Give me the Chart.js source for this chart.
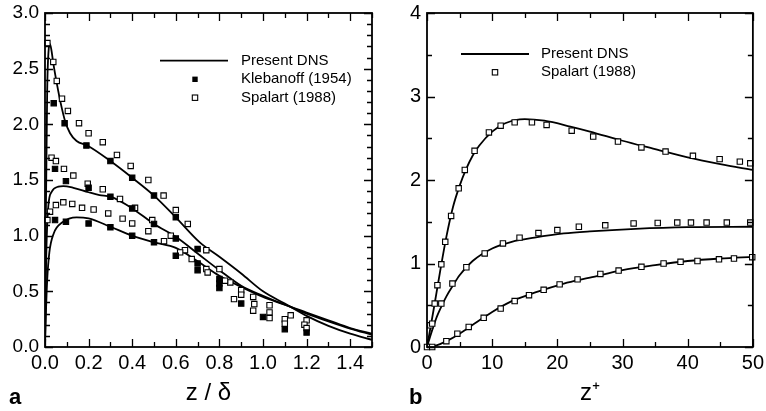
<!DOCTYPE html>
<html>
<head>
<meta charset="utf-8">
<script src="https://cdn.jsdelivr.net/npm/chart.js@4.4.1/dist/chart.umd.min.js"></script>
<style>
  html, body { margin: 0; padding: 0; background: #fff; }
  body { width: 766px; height: 411px; position: relative; overflow: hidden; font-family: "Liberation Sans", Arial, Helvetica, sans-serif; }
  .panel { position: absolute; top: 0; }
  .tag { position: absolute; top: 386px; font-size: 22px; line-height: 22px; font-weight: bold; }
</style>
</head>
<body>
<canvas id="chart-a" class="panel" width="383" height="411"></canvas>
<canvas id="chart-b" class="panel" width="385" height="411" style="left:383px"></canvas>
<div class="tag" style="left:9px">a</div>
<div class="tag" style="left:409px">b</div>

<script>
// ---- Panel a : rms profiles against z/delta ----
// Present DNS curves (streamwise, spanwise, wall-normal)
const uDnsX = [0, 0.004, 0.01, 0.016, 0.023, 0.03, 0.038, 0.054, 0.072, 0.092, 0.115, 0.145, 0.194, 0.3, 0.4, 0.5, 0.6, 0.71, 0.8, 0.9, 1.0, 1.1, 1.2, 1.3, 1.4, 1.5];
const uDnsY = [0, 1.2, 2.3, 2.65, 2.72, 2.66, 2.55, 2.37, 2.19, 2.03, 1.92, 1.85, 1.81, 1.67, 1.52, 1.36, 1.165, 0.94, 0.81, 0.66, 0.50, 0.39, 0.28, 0.19, 0.12, 0.065];
const wDnsX = [0, 0.005, 0.015, 0.031, 0.061, 0.084, 0.13, 0.2, 0.25, 0.3, 0.4, 0.5, 0.6, 0.7, 0.8, 0.9, 1.0, 1.1, 1.2, 1.3, 1.4, 1.5];
const wDnsY = [0, 0.75, 1.26, 1.395, 1.44, 1.445, 1.43, 1.39, 1.365, 1.35, 1.245, 1.105, 0.99, 0.84, 0.69, 0.55, 0.46, 0.38, 0.31, 0.24, 0.17, 0.12];
const vDnsX = [0, 0.005, 0.01, 0.02, 0.04, 0.08, 0.145, 0.2, 0.3, 0.4, 0.5, 0.6, 0.7, 0.8, 0.9, 1.0, 1.1, 1.2, 1.3, 1.4, 1.5];
const vDnsY = [0, 0.35, 0.6, 0.85, 1.02, 1.12, 1.165, 1.155, 1.08, 1.00, 0.94, 0.89, 0.77, 0.64, 0.54, 0.45, 0.38, 0.30, 0.23, 0.165, 0.11];

// Klebanoff (1954), filled squares
const klebX = [0.04, 0.09, 0.19, 0.3, 0.4, 0.5, 0.6, 0.7, 0.8, 0.9, 1.0, 1.1, 1.2,
               0.046, 0.096, 0.2, 0.3, 0.4, 0.5, 0.6, 0.7, 0.8,
               0.046, 0.096, 0.2, 0.3, 0.4, 0.5, 0.6, 0.7, 0.8];
const klebY = [2.19, 2.01, 1.81, 1.67, 1.52, 1.36, 1.165, 0.88, 0.61, 0.39, 0.27, 0.16, 0.13,
               1.60, 1.49, 1.43, 1.35, 1.245, 1.105, 0.975, 0.75, 0.57,
               1.14, 1.125, 1.11, 1.075, 1.00, 0.94, 0.82, 0.69, 0.53];

// Spalart (1988), open squares
const spalX = [0.011, 0.038, 0.054, 0.078, 0.105, 0.156, 0.2, 0.265, 0.33, 0.393, 0.474, 0.544, 0.6, 0.655, 0.74, 0.8, 0.85, 0.9, 0.955, 1.03, 1.127, 1.2,
               0.03, 0.05, 0.087, 0.13, 0.196, 0.265, 0.344, 0.413, 0.492, 0.577, 0.642, 0.74, 0.826, 0.9, 0.96, 1.03, 1.1, 1.19,
               0.011, 0.023, 0.05, 0.084, 0.125, 0.17, 0.223, 0.29, 0.356, 0.4, 0.474, 0.546, 0.62, 0.673, 0.746, 0.867, 0.955, 1.03, 1.1, 1.2];
const spalY = [2.73, 2.56, 2.39, 2.23, 2.12, 2.01, 1.92, 1.84, 1.725, 1.626, 1.50, 1.36, 1.23, 1.105, 0.87, 0.70, 0.58, 0.51, 0.45, 0.375, 0.285, 0.24,
               1.70, 1.67, 1.60, 1.54, 1.467, 1.417, 1.33, 1.25, 1.14, 1.00, 0.87, 0.70, 0.596, 0.47, 0.386, 0.31, 0.25, 0.20,
               1.14, 1.215, 1.275, 1.30, 1.285, 1.25, 1.235, 1.20, 1.153, 1.11, 1.04, 0.95, 0.85, 0.79, 0.67, 0.43, 0.326, 0.26, 0.21, 0.17];

const xTicksA = [0, 0.2, 0.4, 0.6, 0.8, 1.0, 1.2, 1.4];
const yTicksA = [0, 0.5, 1.0, 1.5, 2.0, 2.5, 3.0];

// ---- Panel b : rms profiles against z+ ----
const uPlusX = [0, 1, 2, 3, 4, 5, 6, 7, 8, 10, 12, 15, 18, 22, 25, 30, 35, 40, 45, 50];
const uPlusY = [0, 0.44, 0.90, 1.33, 1.68, 1.93, 2.13, 2.29, 2.41, 2.58, 2.68, 2.73, 2.71, 2.64, 2.58, 2.47, 2.37, 2.27, 2.19, 2.12];
const wPlusX = [0, 0.5, 1, 1.5, 2, 3, 4, 5, 7, 10, 13, 16.5, 21, 25, 32, 40, 50];
const wPlusY = [0, 0.13, 0.25, 0.36, 0.45, 0.61, 0.74, 0.86, 1.03, 1.18, 1.26, 1.31, 1.36, 1.385, 1.415, 1.435, 1.44];
const vPlusX = [0, 1, 2, 3, 5, 7.3, 10, 13, 16.5, 21, 25, 30, 35, 40, 45, 50];
const vPlusY = [0, 0.01, 0.035, 0.07, 0.16, 0.28, 0.42, 0.55, 0.65, 0.76, 0.83, 0.92, 0.98, 1.03, 1.06, 1.08];

const spalPlusX = [0.5, 1.18, 1.6, 2.2, 2.8, 3.7, 4.86, 5.8, 7.3, 9.5, 11.3, 13.45, 16.1, 18.35, 22.2, 25.5, 29.3, 32.9, 36.6, 40.8, 44.9, 48, 49.6,
                   0.8, 2.2, 3.9, 6.04, 8.85, 11.65, 14.2, 17.1, 20, 23.3, 27.35, 31.7, 35.4, 38.4, 40.5, 42.9, 46, 49.6,
                   0, 0.8, 2.97, 4.66, 6.4, 8.7, 11.3, 13.45, 15.65, 17.9, 20.35, 23.1, 26.6, 29.4, 32.9, 36.3, 38.9, 41.5, 44.8, 47.1, 49.9];
const spalPlusY = [0.26, 0.52, 0.74, 0.99, 1.26, 1.57, 1.9, 2.12, 2.35, 2.57, 2.65, 2.69, 2.69, 2.66, 2.59, 2.52, 2.46, 2.39, 2.34, 2.29, 2.25, 2.22, 2.2,
                   0.28, 0.52, 0.76, 0.955, 1.12, 1.24, 1.31, 1.365, 1.40, 1.44, 1.457, 1.48, 1.485, 1.49, 1.49, 1.49, 1.49, 1.49,
                   0, 0, 0.07, 0.16, 0.24, 0.35, 0.46, 0.55, 0.62, 0.685, 0.75, 0.81, 0.875, 0.915, 0.96, 1.0, 1.02, 1.03, 1.05, 1.06, 1.075];

const xTicksB = [0, 10, 20, 30, 40, 50];
const yTicksB = [0, 1, 2, 3, 4];

// ---- helpers ----
const FONT = '"Liberation Sans", Arial, Helvetica, sans-serif';
Chart.defaults.font.family = FONT;
Chart.defaults.color = '#000';

const pts = (xs, ys) => xs.map((x, i) => ({x: x, y: ys[i]}));

function curve(xs, ys) {
  return { data: pts(xs, ys), showLine: true, borderColor: '#000', borderWidth: 1.8,
           pointRadius: 0, cubicInterpolationMode: 'monotone', fill: false };
}
function marks(xs, ys, filled) {
  return { data: pts(xs, ys), showLine: false, pointStyle: 'rect', pointRadius: 3.8,
           borderWidth: 1.1, borderColor: '#000', backgroundColor: filled ? '#000' : '#fff', clip: false };
}

// Box, inward ticks on all four sides, and the in-plot legend
const framePlugin = {
  id: 'frame',
  afterDraw(chart, args, o) {
    const ctx = chart.ctx, a = chart.chartArea, sx = chart.scales.x, sy = chart.scales.y;
    const near = (list, v) => list.some(t => Math.abs(t - v) < 1e-6);
    ctx.save();
    ctx.strokeStyle = '#000';
    ctx.lineWidth = 1.3;
    ctx.beginPath();
    for (let v = sx.min; v <= sx.max + 1e-9; v += o.xMinor) {
      const p = Math.round(sx.getPixelForValue(v)) + 0.5;
      const len = near(o.xMajor, +v.toFixed(6)) ? 8 : 5;
      ctx.moveTo(p, a.bottom); ctx.lineTo(p, a.bottom - len);
      ctx.moveTo(p, a.top); ctx.lineTo(p, a.top + len);
    }
    for (let v = sy.min; v <= sy.max + 1e-9; v += o.yMinor) {
      const p = Math.round(sy.getPixelForValue(v)) + 0.5;
      const len = near(o.yMajor, +v.toFixed(6)) ? 8 : 5;
      ctx.moveTo(a.left, p); ctx.lineTo(a.left + len, p);
      ctx.moveTo(a.right, p); ctx.lineTo(a.right - len, p);
    }
    ctx.stroke();
    ctx.lineWidth = 1.8;
    ctx.strokeRect(a.left, a.top, a.right - a.left, a.bottom - a.top);

    const lg = o.legend;
    ctx.font = '15px ' + FONT;
    ctx.fillStyle = '#000';
    ctx.textBaseline = 'middle';
    lg.rows.forEach(r => {
      if (r.kind === 'line') {
        ctx.lineWidth = 1.8;
        ctx.beginPath(); ctx.moveTo(lg.x0, r.y); ctx.lineTo(lg.x1, r.y); ctx.stroke();
      } else {
        ctx.lineWidth = 1.1;
        if (r.kind === 'filled') ctx.fillRect(lg.mx - 2.7, r.y - 2.7, 5.4, 5.4);
        else ctx.strokeRect(lg.mx - 2.7, r.y - 2.7, 5.4, 5.4);
      }
      ctx.fillText(r.label, lg.tx, r.y);
    });
    ctx.restore();
  }
};

function axes(xr, yr, xTicks, yTicks, xFmt, yFmt, title, yw, yFont) {
  return {
    x: {
      type: 'linear', min: xr[0], max: xr[1],
      afterBuildTicks: s => { s.ticks = xTicks.map(v => ({value: v})); },
      afterFit: s => { s.height = 64; },
      grid: { display: false, drawTicks: false }, border: { display: false },
      ticks: { padding: 4, font: { size: 20 }, maxRotation: 0, autoSkip: false, callback: xFmt },
      title: { display: true, text: title, font: { size: 24 }, padding: { top: 0, bottom: 3 } }
    },
    y: {
      type: 'linear', min: yr[0], max: yr[1],
      afterBuildTicks: s => { s.ticks = yTicks.map(v => ({value: v})); },
      afterFit: s => { s.width = yw; },
      grid: { display: false, drawTicks: false }, border: { display: false },
      ticks: { padding: 6, font: { size: yFont, lineHeight: 0.6 }, autoSkip: false, callback: yFmt }
    }
  };
}

class pageRmsProfiles {
  static initPanelA() {
    new Chart(document.getElementById('chart-a'), {
      type: 'scatter',
      data: { datasets: [
        marks(klebX, klebY, true),
        marks(spalX, spalY, false),
        curve(uDnsX, uDnsY),
        curve(wDnsX, wDnsY),
        curve(vDnsX, vDnsY)
      ]},
      options: {
        responsive: false, animation: false, devicePixelRatio: 1,
        layout: { padding: { top: 13, right: 11, left: 0, bottom: 0 } },
        scales: axes([0, 1.5], [0, 3], xTicksA, yTicksA, v => v.toFixed(1), v => v.toFixed(1), 'z / δ', 45, 19),
        plugins: {
          legend: { display: false }, tooltip: { enabled: false },
          frame: { xMinor: 0.1, yMinor: 0.1, xMajor: xTicksA, yMajor: yTicksA,
            legend: { x0: 160, x1: 228, mx: 195, tx: 241, rows: [
              { kind: 'line', label: 'Present DNS', y: 60.7 },
              { kind: 'filled', label: 'Klebanoff (1954)', y: 79.3 },
              { kind: 'open', label: 'Spalart (1988)', y: 97.7 }
            ]}}
        }
      },
      plugins: [framePlugin]
    });
  }

  static initPanelB() {
    new Chart(document.getElementById('chart-b'), {
      type: 'scatter',
      data: { datasets: [
        marks(spalPlusX, spalPlusY, false),
        curve(uPlusX, uPlusY),
        curve(wPlusX, wPlusY),
        curve(vPlusX, vPlusY)
      ]},
      options: {
        responsive: false, animation: false, devicePixelRatio: 1,
        layout: { padding: { top: 13, right: 11, left: 0, bottom: 0 } },
        scales: axes([0, 50], [0, 4], xTicksB, yTicksB, v => String(v), v => String(v), 'z⁺', 44, 20),
        plugins: {
          legend: { display: false }, tooltip: { enabled: false },
          frame: { xMinor: 5, yMinor: 0.5, xMajor: xTicksB, yMajor: yTicksB,
            legend: { x0: 78, x1: 146, mx: 112, tx: 158, rows: [
              { kind: 'line', label: 'Present DNS', y: 54 },
              { kind: 'open', label: 'Spalart (1988)', y: 72.3 }
            ]}}
        }
      },
      plugins: [framePlugin]
    });
  }

  static init() {
    this.initPanelA();
    this.initPanelB();
  }
}

pageRmsProfiles.init();
</script>
</body>
</html>
